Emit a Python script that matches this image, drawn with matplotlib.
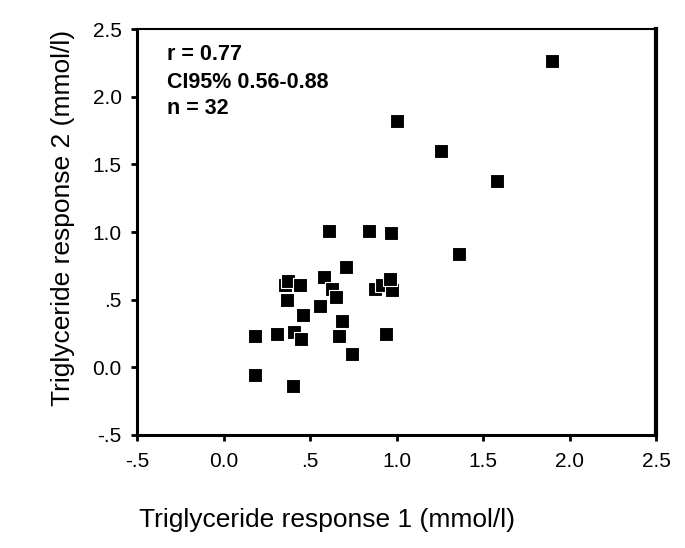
import matplotlib
matplotlib.use("Agg")
import matplotlib.pyplot as plt

# Data
resp1 = [1.90, 1.00, 1.26, 1.58, 1.36, 0.61, 0.84, 0.97, 0.71, 0.355, 0.37, 0.44,
         0.365, 0.876, 0.914, 0.972, 0.962, 0.58, 0.625, 0.648, 0.56, 0.46, 0.685,
         0.18, 0.31, 0.41, 0.45, 0.665, 0.94, 0.745, 0.18, 0.40]
resp2 = [2.26, 1.82, 1.60, 1.38, 0.84, 1.01, 1.01, 0.99, 0.74, 0.61, 0.64, 0.61,
         0.50, 0.58, 0.61, 0.57, 0.65, 0.67, 0.58, 0.52, 0.45, 0.39, 0.34,
         0.23, 0.25, 0.26, 0.21, 0.23, 0.25, 0.10, -0.06, -0.14]
tick_vals = [-0.5, 0.0, 0.5, 1.0, 1.5, 2.0, 2.5]
tick_labels = ["-.5", "0.0", ".5", "1.0", "1.5", "2.0", "2.5"]
stats_text = ["r = 0.77", "CI95% 0.56-0.88", "n = 32"]

fig = plt.figure(figsize=(6.85, 5.48), dpi=100)
ax = fig.add_axes([137/685, 113/548, 519/685, 406/548])

ax.scatter(resp1, resp2, marker="s", s=90, c="black", edgecolors="white",
           linewidths=0.8, zorder=3)

ax.set_xlim(-0.5, 2.5)
ax.set_ylim(-0.5, 2.5)
ax.set_xticks(tick_vals)
ax.set_xticklabels(tick_labels)
ax.set_yticks(tick_vals)
ax.set_yticklabels(tick_labels)

tick_family = ["Liberation Sans Narrow", "Liberation Sans", "DejaVu Sans"]
for lab in ax.get_xticklabels() + ax.get_yticklabels():
    lab.set_fontfamily(tick_family)
    lab.set_fontsize(15)
ax.tick_params(axis="x", direction="out", length=4, width=2, pad=8)
ax.tick_params(axis="y", direction="out", length=4, width=2, pad=7)

for side in ["left", "bottom"]:
    ax.spines[side].set_linewidth(2.2)
ax.spines["top"].set_linewidth(1.5)
ax.spines["right"].set_linewidth(3)

lab_family = ["Liberation Sans", "DejaVu Sans"]
fig.text(327/685, 1 - 520/548, "Triglyceride response 1 (mmol/l)", ha="center",
         va="center", fontsize=19, family=lab_family)
fig.text(63/685, 1 - 218/548, "Triglyceride response 2 (mmol/l)", ha="center",
         va="center", rotation=90, fontsize=19, family=lab_family)

ys = [55, 82, 108]
for t, yy in zip(stats_text, ys):
    fig.text(167/685, 1 - yy/548, t, ha="left", va="center", fontsize=15.5,
             fontweight="bold", family=tick_family)

fig.savefig("out.png", dpi=100)
